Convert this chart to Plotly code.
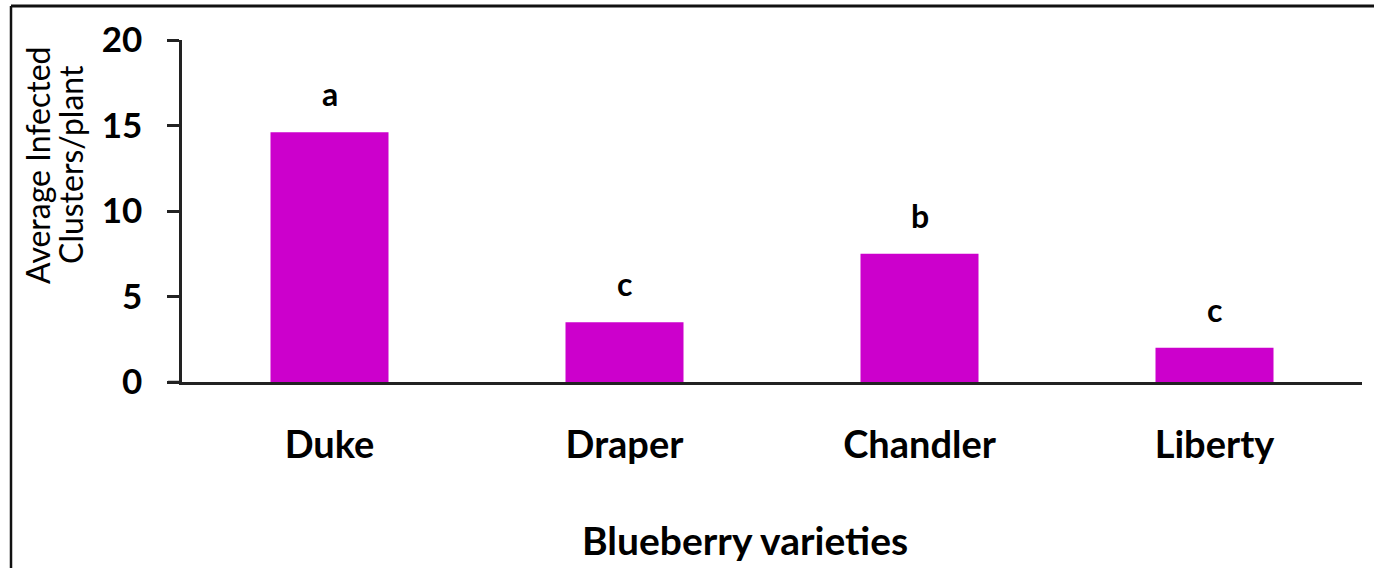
import plotly.graph_objects as go

categories = ["Duke", "Draper", "Chandler", "Liberty"]
values = [14.6, 3.5, 7.5, 2.0]
letters = ["a", "c", "b", "c"]
y_ticks = [0, 5, 10, 15, 20]

FONT = "Lato"
L, R, T, B = 182, 12, 40, 186
W, H = 1374, 568
pw = W - L - R
ph = H - T - B

def px_x(px):
    return (px - L) / pw

def px_y(py):
    return (H - B - py) / ph

fig = go.Figure()
fig.add_trace(go.Bar(
    x=categories, y=values, width=0.4,
    marker=dict(color="#CC00CC", line=dict(width=0)),
    hoverinfo="x+y",
))

for c, v, t in zip(categories, values, letters):
    fig.add_annotation(x=c, y=v, text=t, showarrow=False, yanchor="bottom",
                       yshift=17, font=dict(family=FONT, size=32, color="black", weight="bold"))

fig.add_annotation(xref="paper", yref="paper", x=px_x(745), y=px_y(540),
                   xanchor="center", yanchor="middle",
                   text="Blueberry varieties", showarrow=False,
                   font=dict(family=FONT, size=39, color="black", weight="bold"))
fig.add_annotation(xref="paper", yref="paper", x=px_x(37), y=px_y(165),
                   xanchor="center", yanchor="middle",
                   text="Average Infected", showarrow=False, textangle=-90,
                   font=dict(family=FONT, size=32, color="black"))
fig.add_annotation(xref="paper", yref="paper", x=px_x(70), y=px_y(165),
                   xanchor="center", yanchor="middle",
                   text="Clusters/plant", showarrow=False, textangle=-90,
                   font=dict(family=FONT, size=32, color="black"))

# x-axis line extension left of y axis
fig.add_shape(type="line", xref="paper", yref="paper", x0=px_x(168), x1=0, y0=0, y1=0,
              line=dict(color="#222222", width=2.5))
# frame
fig.add_shape(type="line", xref="paper", yref="paper", x0=px_x(11), x1=px_x(1380),
              y0=px_y(6), y1=px_y(6), line=dict(color="#111111", width=3))
fig.add_shape(type="line", xref="paper", yref="paper", x0=px_x(11), x1=px_x(11),
              y0=px_y(6), y1=px_y(575), line=dict(color="#111111", width=2.5))

fig.update_layout(
    width=W, height=H,
    margin=dict(l=L, r=R, t=T, b=B),
    plot_bgcolor="white", paper_bgcolor="white",
    showlegend=False,
    bargap=0.6,
)
fig.update_xaxes(
    showline=True, linecolor="#222222", linewidth=2.5,
    ticks="", showgrid=False, ticklabelstandoff=28,
    tickfont=dict(family=FONT, size=38, color="black", weight="bold"),
)
fig.update_yaxes(
    range=[0, 20], tickvals=y_ticks, showline=True, linecolor="#222222", linewidth=2.5,
    ticks="outside", ticklen=12, tickwidth=2.5, tickcolor="#222222",
    showgrid=False, zeroline=False, ticklabelstandoff=18,
    tickfont=dict(family=FONT, size=35, color="black", weight="bold"),
)

fig.write_html("out.html", config={"displayModeBar": False},
               post_script="document.body.style.margin='0';document.body.style.overflow='hidden';")
